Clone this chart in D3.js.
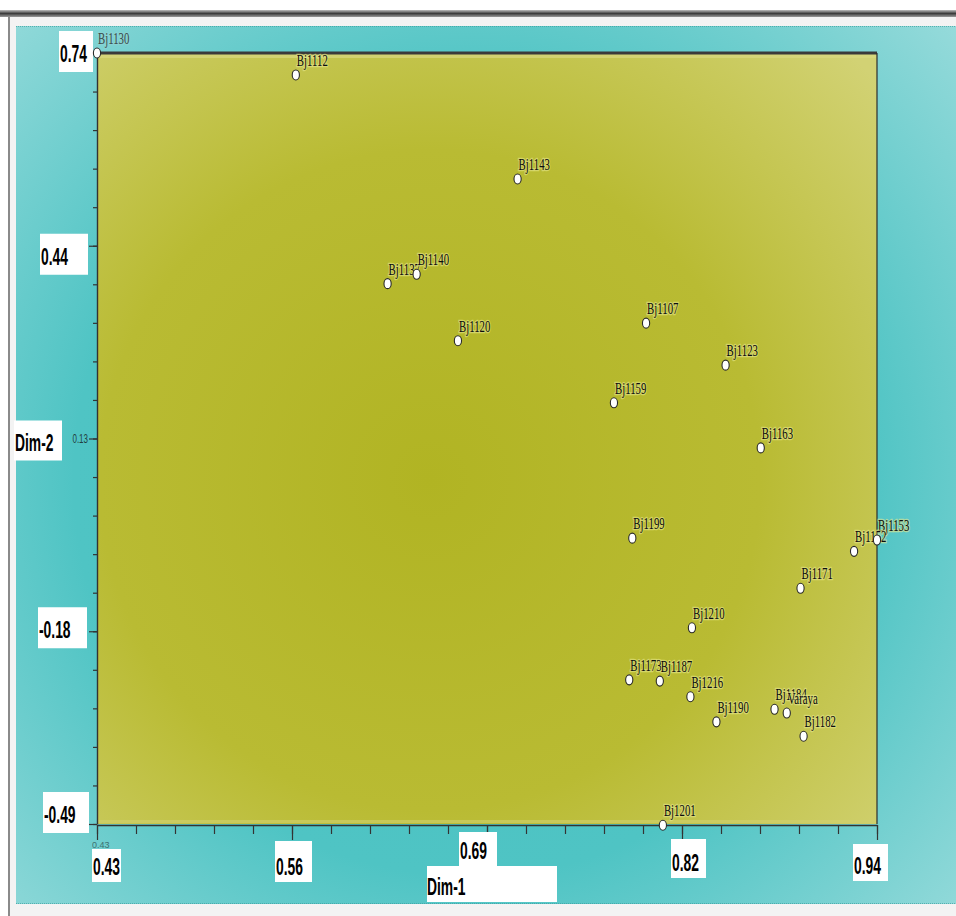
<!DOCTYPE html>
<html>
<head>
<meta charset="utf-8">
<script src="https://cdn.jsdelivr.net/npm/d3@7"></script>
<style>
  html, body { margin: 0; padding: 0; background: #ffffff; }
  svg { display: block; }
</style>
</head>
<body>
<svg id="chart" width="956" height="916"></svg>
<script>
// Genotype scores on the first two dimensions
const genotypes = ["Bj1130","Bj1112","Bj1143","Bj1137","Bj1140","Bj1120","Bj1107","Bj1123","Bj1159","Bj1163",
                   "Bj1199","Bj1153","Bj1152","Bj1171","Bj1210","Bj1173","Bj1187","Bj1216","Bj1190","Bj1184",
                   "Varaya","Bj1182","Bj1201"];
const dim1 = [0.430, 0.560, 0.705, 0.620, 0.639, 0.666, 0.789, 0.841, 0.768, 0.864,
              0.780, 0.940, 0.925, 0.890, 0.819, 0.778, 0.798, 0.818, 0.835, 0.873,
              0.881, 0.892, 0.800];
const dim2 = [0.740, 0.705, 0.539, 0.372, 0.387, 0.281, 0.309, 0.242, 0.182, 0.110,
              -0.034, -0.037, -0.055, -0.114, -0.177, -0.260, -0.262, -0.287, -0.327, -0.307,
              -0.313, -0.350, -0.492];

// Axis extents and printed tick labels
const xDomain = [0.43, 0.94];
const yDomain = [-0.49, 0.74];
const xTickLabels = ["0.43", "0.56", "0.69", "0.82", "0.94"];
const yTickLabels = ["0.74", "0.44", "0.13", "-0.18", "-0.49"];
const xTitle = "Dim-1";
const yTitle = "Dim-2";

const svg = d3.select("#chart");
const W = 956, H = 916;
const plot = { left: 97, top: 53, right: 877, bottom: 824 };

const x = d3.scaleLinear().domain(xDomain).range([plot.left, plot.right]);
const y = d3.scaleLinear().domain(yDomain).range([plot.bottom, plot.top]);

const defs = svg.append("defs");
const teal = defs.append("radialGradient").attr("id", "tealBg")
  .attr("gradientUnits", "userSpaceOnUse").attr("cx", 470).attr("cy", 480).attr("r", 720);
teal.append("stop").attr("offset", 0).attr("stop-color", "#46c1c1");
teal.append("stop").attr("offset", 0.55).attr("stop-color", "#4fc4c4");
teal.append("stop").attr("offset", 1).attr("stop-color", "#a4dfdf");

const olive = defs.append("radialGradient").attr("id", "oliveBg")
  .attr("gradientUnits", "userSpaceOnUse").attr("cx", 430).attr("cy", 480).attr("r", 600);
olive.append("stop").attr("offset", 0).attr("stop-color", "#b1b423");
olive.append("stop").attr("offset", 0.55).attr("stop-color", "#b9bb33");
olive.append("stop").attr("offset", 1).attr("stop-color", "#d2d274");

const frameLine = defs.append("linearGradient").attr("id", "frameLine")
  .attr("x1", 0).attr("y1", 0).attr("x2", 0).attr("y2", 1);
frameLine.append("stop").attr("offset", 0).attr("stop-color", "#bdbdbd");
frameLine.append("stop").attr("offset", 0.5).attr("stop-color", "#3c3c3c");
frameLine.append("stop").attr("offset", 1).attr("stop-color", "#9a9a9a");

// Window frame
svg.append("rect").attr("x", 0).attr("y", 0).attr("width", W).attr("height", H).attr("fill", "#ffffff");
svg.append("rect").attr("x", 8).attr("y", 16).attr("width", W - 8).attr("height", H - 16).attr("fill", "#f3f3f3");
svg.append("rect").attr("x", 0).attr("y", 10).attr("width", W).attr("height", 7).attr("fill", "url(#frameLine)");
svg.append("rect").attr("x", 8).attr("y", 16).attr("width", 2).attr("height", H - 16).attr("fill", "#8a8a8a");

// Teal backdrop
svg.append("rect").attr("x", 16).attr("y", 26).attr("width", W - 16).attr("height", 878)
  .attr("fill", "url(#tealBg)");
svg.append("line").attr("x1", 16).attr("x2", W).attr("y1", 26.5).attr("y2", 26.5)
  .attr("stroke", "#3a9e9e").attr("stroke-dasharray", "1,1").attr("stroke-opacity", 0.7);
svg.append("line").attr("x1", 16).attr("x2", W).attr("y1", 903.5).attr("y2", 903.5)
  .attr("stroke", "#3a9e9e").attr("stroke-dasharray", "1,1").attr("stroke-opacity", 0.7);

// Plot panel
svg.append("rect").attr("x", plot.left).attr("y", plot.top)
  .attr("width", plot.right - plot.left).attr("height", plot.bottom - plot.top)
  .attr("fill", "url(#oliveBg)");
svg.append("rect").attr("x", plot.left).attr("y", plot.top + 1)
  .attr("width", plot.right - plot.left).attr("height", 4).attr("fill", "#d8d880").attr("opacity", 0.7);
svg.append("rect").attr("x", plot.left).attr("y", plot.bottom - 4)
  .attr("width", plot.right - plot.left).attr("height", 3).attr("fill", "#d0d070").attr("opacity", 0.6);
svg.append("line").attr("x1", plot.left).attr("x2", plot.right).attr("y1", plot.top).attr("y2", plot.top)
  .attr("stroke", "#3a3a3a").attr("stroke-width", 3);
svg.append("line").attr("x1", plot.right).attr("x2", plot.right).attr("y1", plot.top).attr("y2", plot.bottom)
  .attr("stroke", "#2c2c2c").attr("stroke-width", 1.2);

// Axes: 20 intervals each, every 5th one carries a printed label
const nInt = 20;
const xTicks = d3.range(nInt + 1).map(i => xDomain[0] + i * (xDomain[1] - xDomain[0]) / nInt);
const yTicks = d3.range(nInt + 1).map(i => yDomain[0] + i * (yDomain[1] - yDomain[0]) / nInt);
const xMajor = xTicks.filter((d, i) => i % 5 === 0);
const yMajor = yTicks.filter((d, i) => i % 5 === 0);

function styleAxis(g) {
  g.selectAll("path.domain").attr("stroke", "#333").attr("stroke-width", 1.4);
  g.selectAll(".tick line").attr("stroke", "#333").attr("stroke-width", 1.2);
  g.selectAll(".tick text").remove();
}

svg.append("g").attr("transform", `translate(0,${plot.bottom + 1})`)
  .call(d3.axisBottom(x).tickValues(xTicks).tickSize(9).tickSizeOuter(0)).call(styleAxis);
svg.append("g").attr("transform", `translate(0,${plot.bottom + 1})`)
  .call(d3.axisBottom(x).tickValues(xMajor).tickSize(15).tickSizeOuter(0)).call(styleAxis)
  .select("path.domain").remove();
svg.append("g").attr("transform", `translate(${plot.left},0)`)
  .call(d3.axisLeft(y).tickValues(yTicks).tickSize(4).tickSizeOuter(0)).call(styleAxis);
svg.append("g").attr("transform", `translate(${plot.left},0)`)
  .call(d3.axisLeft(y).tickValues(yMajor).tickSize(8).tickSizeOuter(0)).call(styleAxis)
  .select("path.domain").remove();

// Small native tick captions that remain visible
const tiny = "'Liberation Sans Narrow','Liberation Sans',sans-serif";
svg.append("text").attr("transform", `translate(88,${y(yMajor[2]) + 4}) scale(0.8,1.25)`)
  .attr("text-anchor", "end")
  .attr("font-family", tiny).attr("font-size", 10).attr("fill", "#23403f")
  .text(yTickLabels[2]);
svg.append("text").attr("x", x(xMajor[0]) - 5).attr("y", 848)
  .attr("font-family", tiny).attr("font-size", 9).attr("fill", "#2a4a4a").attr("opacity", 0.7)
  .text(xTickLabels[0]);

// Boxed bold captions
const boldFont = "'Liberation Sans','Arial',sans-serif";
function boxedLabel(text, bx, by, bw, bh, tx, ty) {
  const g = svg.append("g");
  g.append("rect").attr("x", bx).attr("y", by).attr("width", bw).attr("height", bh).attr("fill", "#ffffff");
  g.append("text").attr("font-family", boldFont).attr("font-weight", "bold").attr("font-size", 22)
    .attr("fill", "#000").attr("transform", `translate(${tx},${ty}) scale(0.63,1.08)`).text(text);
}

// y-axis captions: box right edge just left of the ticks, centred near the tick
const yBoxes = [
  { i: 0, bx: 59, bw: 34, dy: -2 },
  { i: 1, bx: 40, bw: 48, dy: 8 },
  { i: 3, bx: 38, bw: 49, dy: -4 },
  { i: 4, bx: 43, bw: 46, dy: -12 }
];
yBoxes.forEach(b => {
  const cy = y(yMajor[4 - b.i]) + b.dy;
  boxedLabel(yTickLabels[b.i], b.bx, cy - 20, b.bw, 41, b.bx + 1, cy + 11);
});
boxedLabel(yTitle, 14, y(yMajor[2]) - 18, 48, 40, 15, y(yMajor[2]) + 12);

// x-axis captions
const xBoxes = [
  { i: 0, dx: -5, w: 29, top: 849, h: 33 },
  { i: 1, dx: -17, w: 37, top: 841, h: 41 },
  { i: 2, dx: -28, w: 38, top: 832, h: 34 },
  { i: 3, dx: -11, w: 35, top: 839, h: 39 },
  { i: 4, dx: -24, w: 35, top: 844, h: 37 }
];
xBoxes.forEach(b => {
  const bx = x(xMajor[b.i]) + b.dx;
  boxedLabel(xTickLabels[b.i], bx, b.top, b.w, b.h, bx + 1, b.top + b.h - 7);
});
boxedLabel(xTitle, 427, 866, 130, 36, 427, 895);

// Genotype points with names set just above and right of each marker
const pts = genotypes.map((name, i) => ({ name, x: dim1[i], y: dim2[i] }));
const serif = "'Liberation Serif','DejaVu Serif',serif";

svg.append("g").selectAll("text").data(pts).join("text")
  .attr("transform", d => `translate(${x(d.x) + 1},${y(d.y) - 9}) scale(0.72,1.1)`)
  .attr("font-family", serif).attr("font-size", 15)
  .attr("fill", d => d.x <= xDomain[0] ? "#3c4a4a" : "#0c0c0c")
  .attr("stroke", d => d.x <= xDomain[0] ? "#8fd4d4" : "#e6e68c")
  .attr("stroke-width", 2.4).attr("stroke-opacity", 0.6)
  .attr("paint-order", "stroke")
  .text(d => d.name);

svg.append("g").selectAll("ellipse").data(pts).join("ellipse")
  .attr("cx", d => x(d.x)).attr("cy", d => y(d.y))
  .attr("rx", 3.6).attr("ry", 5)
  .attr("fill", "#ffffff").attr("stroke", "#2a2a2a").attr("stroke-width", 1.1);
</script>
</body>
</html>
